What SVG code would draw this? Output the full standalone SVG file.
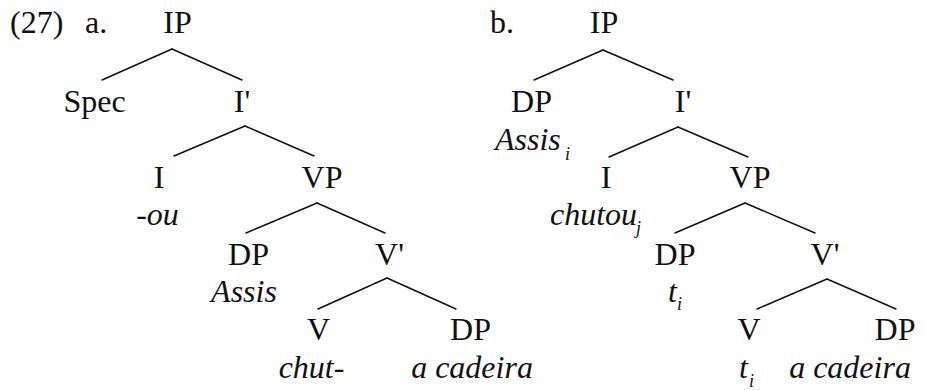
<svg xmlns="http://www.w3.org/2000/svg" width="925" height="390" viewBox="0 0 925 390" font-family="'Liberation Serif', Tinos, 'Times New Roman', Times, serif">
<style>
.l{fill:#111;text-anchor:middle}
.s{text-anchor:start}
.it{font-style:italic}
.sub{font-style:italic;fill:#111}
.e line{stroke:#111;stroke-width:1.5;stroke-linecap:round}
</style>
<rect width="925" height="390" fill="#fff"/>
<g id="labels" font-size="32">
<text class="l s" x="10" y="33">(27)</text>
<text class="l s" x="85" y="33">a.</text>
<text class="l s" x="490" y="33">b.</text>
</g>
<g class="e" id="connectors">
<line x1="172" y1="49" x2="102" y2="80"/><line x1="172" y1="49" x2="242" y2="80"/>
<line x1="245" y1="126" x2="174" y2="156"/><line x1="245" y1="126" x2="314" y2="156"/>
<line x1="317" y1="203" x2="246" y2="233"/><line x1="317" y1="203" x2="385" y2="233"/>
<line x1="387" y1="278" x2="318" y2="309"/><line x1="387" y1="278" x2="456" y2="309"/>
<line x1="603" y1="50" x2="534" y2="80"/><line x1="603" y1="50" x2="673" y2="80"/>
<line x1="678" y1="127" x2="609" y2="157"/><line x1="678" y1="127" x2="748" y2="157"/>
<line x1="745" y1="203" x2="675" y2="233"/><line x1="745" y1="203" x2="815" y2="233"/>
<line x1="827" y1="279" x2="757" y2="309"/><line x1="827" y1="279" x2="896" y2="309"/>
</g>
<g font-size="32">
<g id="a-IP"><text class="l" x="177.5" y="33">IP</text></g>
<g id="a-Spec"><text class="l" x="94.5" y="112">Spec</text></g>
<g id="a-Ibar"><text class="l" x="242" y="112">I'</text></g>
<g id="a-I"><text class="l" x="159" y="188">I</text><text class="l it" x="157.5" y="225">-ou</text></g>
<g id="a-VP"><text class="l" x="322" y="188">VP</text></g>
<g id="a-DP"><text class="l" x="248.5" y="265">DP</text><text class="l it" x="244" y="302">Assis</text></g>
<g id="a-Vbar"><text class="l" x="389.5" y="265">V'</text></g>
<g id="a-V"><text class="l" x="318.5" y="340">V</text><text class="l it" x="311.5" y="378">chut-</text></g>
<g id="a-DP2"><text class="l" x="470.5" y="340">DP</text><text class="l it" x="472" y="378">a cadeira</text></g>
<g id="b-IP"><text class="l" x="604" y="33">IP</text></g>
<g id="b-DP"><text class="l" x="531.5" y="112">DP</text><text class="l s it" x="495" y="150">Assis</text><text class="sub" font-size="18" x="565" y="160">i</text></g>
<g id="b-Ibar"><text class="l" x="683" y="112">I'</text></g>
<g id="b-I"><text class="l" x="606" y="188">I</text><text class="l s it" x="550" y="225">chutou</text><text class="sub" font-size="18" x="636" y="234">j</text></g>
<g id="b-VP"><text class="l" x="750" y="188">VP</text></g>
<g id="b-DP1"><text class="l" x="675" y="265">DP</text><text class="l s it" x="668" y="302">t</text><text class="sub" font-size="18" x="677" y="310">i</text></g>
<g id="b-Vbar"><text class="l" x="825" y="265">V'</text></g>
<g id="b-V"><text class="l" x="749" y="340">V</text><text class="l s it" x="739" y="378">t</text><text class="sub" font-size="18" x="749" y="387">i</text></g>
<g id="b-DP2"><text class="l" x="895" y="340">DP</text><text class="l it" x="850" y="378">a cadeira</text></g>
</g>
</svg>
